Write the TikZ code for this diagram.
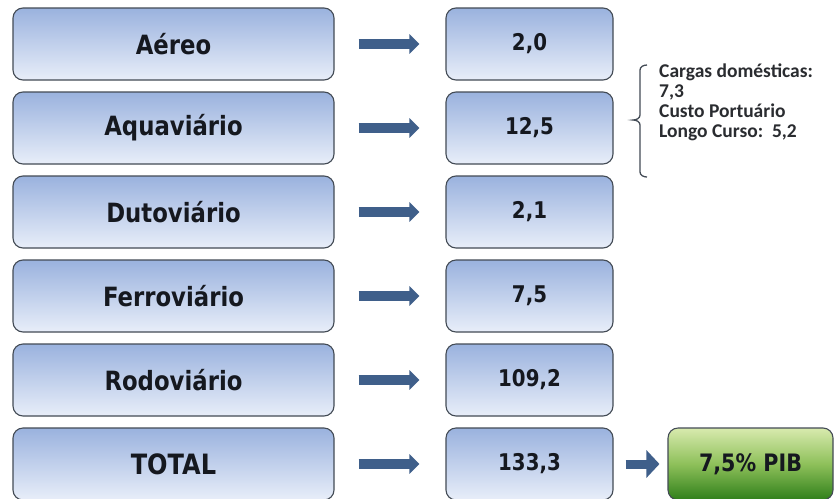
\documentclass[tikz,border=0pt]{standalone}
\usepackage{fontspec}
\setmainfont{Carlito}
\newfontfamily\tah[FakeStretch=0.86]{DejaVu Sans}
\usetikzlibrary{arrows.meta}
\definecolor{boxtop}{HTML}{9AB2DE}
\definecolor{boxbot}{HTML}{E8EEF9}
\definecolor{boxline}{HTML}{434B55}
\definecolor{arrowc}{HTML}{3F5F8A}
\definecolor{gtop}{HTML}{D8EAAE}
\definecolor{gmid}{HTML}{8EC05A}
\definecolor{gbot}{HTML}{2F7F1A}
\definecolor{txt}{HTML}{15181F}
\definecolor{notec}{HTML}{2A2C30}
\tikzset{
  x=1pt, y=-1pt,
  basebox/.style={draw=boxline, line width=1.1pt, rounded corners=10pt, inner sep=0pt, text=txt},
  bluebox/.style={basebox, top color=boxtop, bottom color=boxbot},
  lbox/.style={bluebox, minimum width=321pt, minimum height=72pt, font=\tah\bfseries\fontsize{26.5}{30}\selectfont},
  rbox/.style={bluebox, minimum width=167pt, minimum height=72pt, font=\tah\bfseries\fontsize{23}{26}\selectfont},
  gbox/.style={basebox, top color=gtop, bottom color=gbot, middle color=gmid, minimum width=165pt, minimum height=72pt, font=\tah\bfseries\fontsize{24}{26}\selectfont},
  bigarrow/.style={arrowc, line width=10pt, -{Triangle[length=10pt,width=19pt]}, shorten <=24pt, shorten >=26pt},
  smallarrow/.style={arrowc, line width=9pt, -{Triangle[length=13pt,width=27pt]}, shorten <=12pt, shorten >=8pt},
}
\begin{document}
\begin{tikzpicture}
\useasboundingbox[fill=white] (0,0) rectangle (834,498);
\foreach \n/\lab/\val/\y in {1/Aéreo/{2,0}/44, 2/Aquaviário/{12,5}/128, 3/Dutoviário/{2,1}/212, 4/Ferroviário/{7,5}/296, 5/Rodoviário/{109,2}/380}{
  \node[lbox] (l\n) at (173.5,\y) {\lab};
  \node[rbox] (r\n) at (529.5,\y) {\val};
  \draw[bigarrow] (l\n.east) -- (r\n.west);
}
\node[lbox, font=\tah\bfseries\fontsize{28}{30}\selectfont] (l6) at (173.5,464) {TOTAL};
\node[rbox] (r6) at (529.5,464) {133,3};
\draw[bigarrow] (l6.east) -- (r6.west);
\node[gbox] (g) at (750.5,464) {7,5\% PIB};
\draw[smallarrow] (r6.east) -- (g.west);
% brace
\coordinate (bt) at (647,65);
\coordinate (bm) at (633,120);
\coordinate (bb) at (647,177);
\draw[boxline, line width=1.3pt] (bt) to[out=180,in=90] (640,70) -- (640,115)
  to[out=-90,in=0] (bm) to[out=0,in=90] (640,125) -- (640,172) to[out=-90,in=180] (bb);
\node[anchor=west, align=left, inner sep=0pt, text=notec, font=\bfseries\fontsize{19.5}{20}\selectfont] (note) at (659,102)
  {Cargas domésticas:\\7,3\\Custo Portuário\\Longo Curso:\ \ 5,2};
\end{tikzpicture}
\end{document}
